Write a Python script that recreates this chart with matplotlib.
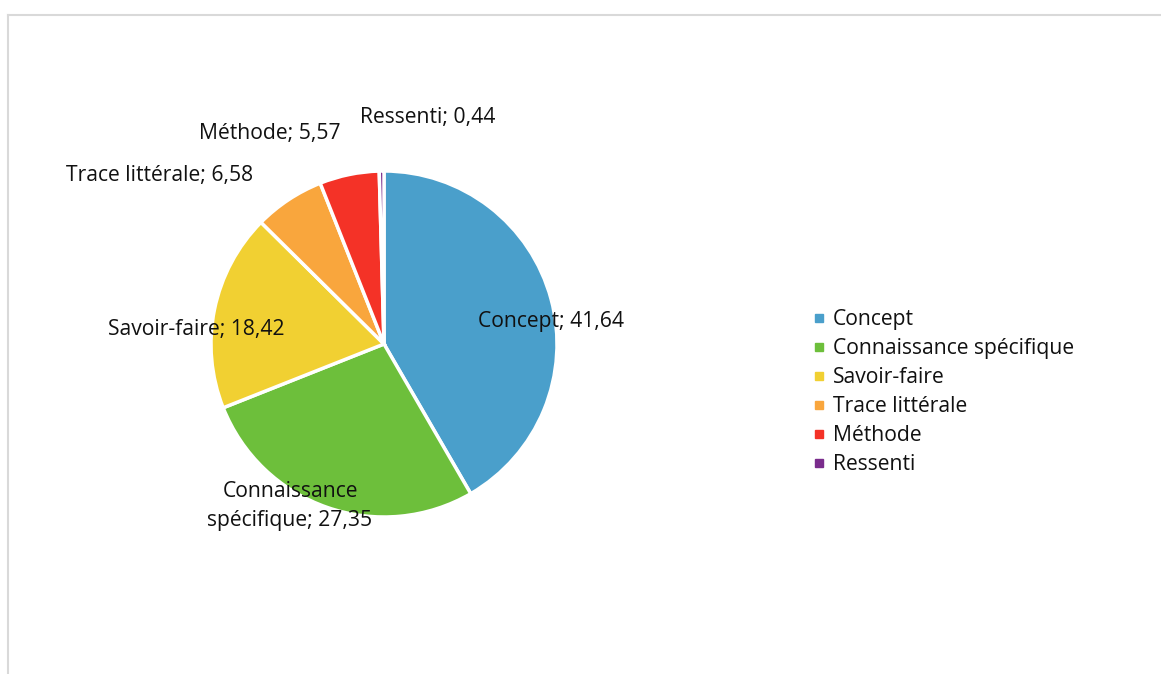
import matplotlib
matplotlib.use("Agg")
import matplotlib.pyplot as plt
from matplotlib.lines import Line2D

plt.rcParams['font.family'] = ['Open Sans', 'DejaVu Sans']

# data
categories = ['Concept', 'Connaissance spécifique', 'Savoir-faire',
              'Trace littérale', 'Méthode', 'Ressenti']
values = [41.64, 27.35, 18.42, 6.58, 5.57, 0.44]
colors = ['#4a9fcb', '#6dbf3b', '#f1d032', '#f9a63d', '#f43227', '#7a2c8c']

# label text centres in pixels (y from top), Excel "best fit" placement
label_pos = [(551, 322), (290, 506), (196, 329), (160, 175), (270, 133), (428, 117)]
label_text = ['Concept; 41,64', 'Connaissance\nspécifique; 27,35', 'Savoir-faire; 18,42',
              'Trace littérale; 6,58', 'Méthode; 5,57', 'Ressenti; 0,44']

W, H = 1161, 674
fs = 15.2
fig = plt.figure(figsize=(W / 100, H / 100), dpi=100)
ax = fig.add_axes([0, 0, 1, 1])
ax.axis('off')

ax.pie(values, colors=colors, startangle=90, counterclock=False,
       center=(384, H - 344), radius=173,
       wedgeprops=dict(edgecolor='white', linewidth=2.5))
ax.set_xlim(0, W)
ax.set_ylim(0, H)
ax.set_aspect('auto')

for (x, y), t in zip(label_pos, label_text):
    ax.text(x, H - y, t, ha='center', va='center', fontsize=fs,
            color='#111111', linespacing=1.5)

# outer chart frame (top and left borders)
fig.add_artist(Line2D([8 / W, 1], [1 - 15 / H, 1 - 15 / H], color='#d9d9d9', lw=1.5))
fig.add_artist(Line2D([8 / W, 8 / W], [0, 1 - 15 / H], color='#d9d9d9', lw=1.5))

handles = [Line2D([], [], marker='s', color=c, linestyle='none', markersize=6)
           for c in colors]
ax.legend(handles, categories, loc='upper left',
          bbox_to_anchor=(814 / W, 1 - 309 / H), bbox_transform=fig.transFigure,
          frameon=False, fontsize=fs, handlelength=0.5, handletextpad=0.4,
          labelspacing=0.38, borderpad=0, borderaxespad=0, labelcolor='#111111')

fig.savefig('out.png', dpi=100)
